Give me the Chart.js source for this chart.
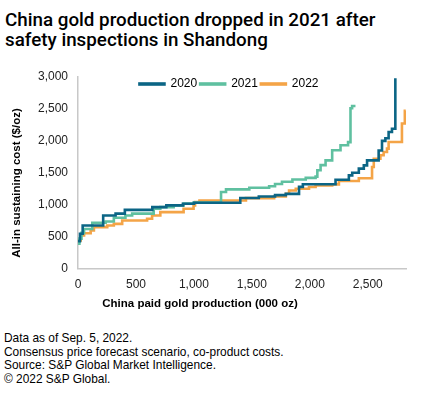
<!DOCTYPE html>
<html>
<head>
<meta charset="utf-8">
<script src="https://cdn.jsdelivr.net/npm/chart.js@4.4.0/dist/chart.umd.min.js"></script>
<style>
  body { margin: 0; width: 425px; height: 394px; background: #fff; position: relative; overflow: hidden;
         font-family: "Liberation Sans", Arial, sans-serif; color: #000; }
  #title { position: absolute; left: 5px; top: 11px; font-family: Roboto, sans-serif; font-size: 18.8px;
           font-weight: 500; line-height: 19.5px; }
  #wrap { position: absolute; left: 0; top: 55px; width: 425px; height: 262px; }
  #notes { position: absolute; left: 4px; top: 332px; font-size: 11.9px; line-height: 13.7px; }
</style>
</head>
<body>
<div id="title">China gold production dropped in 2021 after<br>safety inspections in Shandong</div>
<div id="wrap"><canvas id="chart"></canvas></div>
<div id="notes">Data as of Sep. 5, 2022.<br>Consensus price forecast scenario, co-product costs.<br>Source: S&amp;P Global Market Intelligence.<br>© 2022 S&amp;P Global.</div>
<script>
// cumulative paid production (000 oz) where each cost step starts, and its AISC ($/oz)
const prod2020 = [0, 17, 40, 217, 324, 404, 641, 762, 905, 1000, 1400, 1560, 1700, 1793, 1907, 1940, 2222, 2337, 2366, 2423, 2466, 2494, 2594, 2623, 2652, 2680, 2709, 2738];
const cost2020 = [430, 545, 675, 832, 860, 920, 962, 990, 1015, 1030, 1105, 1130, 1150, 1170, 1280, 1320, 1392, 1460, 1500, 1565, 1617, 1695, 1850, 2000, 2040, 2140, 2190, 2980];

const prod2021 = [0, 12, 30, 52, 123, 238, 309, 409, 467, 653, 710, 825, 911, 1000, 1234, 1277, 1478, 1649, 1700, 1760, 1850, 1965, 2050, 2065, 2093, 2136, 2193, 2265, 2330, 2351, 2365, 2394];
const cost2021 = [390, 470, 560, 620, 717, 738, 796, 832, 860, 937, 962, 990, 1020, 1035, 1200, 1240, 1265, 1290, 1325, 1360, 1395, 1420, 1440, 1540, 1620, 1695, 1852, 1931, 1980, 2510, 2545, 2545];

const prod2022 = [0, 23, 52, 109, 137, 252, 309, 381, 596, 639, 710, 911, 997, 1010, 1048, 1449, 1692, 1793, 1821, 1879, 1993, 2050, 2193, 2251, 2423, 2537, 2552, 2609, 2637, 2666, 2680, 2795, 2820, 2828];
const cost2022 = [440, 518, 554, 597, 649, 675, 701, 754, 780, 832, 884, 937, 990, 1041, 1067, 1104, 1130, 1172, 1224, 1250, 1277, 1303, 1318, 1371, 1415, 1590, 1721, 1774, 1826, 1878, 1983, 2271, 2470, 2470];

const seriesNames = ['2020', '2021', '2022'];
const xTicks = [0, 500, 1000, 1500, 2000, 2500];
const yTicks = [0, 500, 1000, 1500, 2000, 2500, 3000];
const xTitle = 'China paid gold production (000 oz)';
const yTitle = 'All-in sustaining cost ($/oz)';

const toPoints = (xs, ys) => xs.map((x, i) => ({ x: x, y: ys[i] }));

const font = { family: '"Liberation Sans", Arial, sans-serif', size: 12 };

// axis titles are centred on the whole chart box, not on the plot area
const axisTitles = {
  id: 'axisTitles',
  afterDraw(chart) {
    const ctx = chart.ctx;
    ctx.save();
    ctx.fillStyle = '#000';
    ctx.font = 'bold 11.5px "Liberation Sans", Arial, sans-serif';
    ctx.textAlign = 'center';
    ctx.textBaseline = 'middle';
    ctx.fillText(xTitle, 200, chart.height - 13);
    ctx.translate(17, 128);
    ctx.rotate(-Math.PI / 2);
    ctx.fillText(yTitle, 0, 0);
    ctx.restore();
  }
};

// legend sits inside the plot, so it takes no room in the layout
const legendInside = {
  id: 'legendInside',
  beforeInit(chart) {
    const legend = chart.legend;
    const fit = legend.fit;
    legend.fit = function () { fit.call(this); this.realHeight = this.height; this.height = 0; };
  },
  afterLayout(chart) {
    const legend = chart.legend;
    legend.top -= 2;
    legend.height = legend.realHeight;
    legend.bottom = legend.top + legend.height;
    legend.left += 12;
    legend.right += 12;
  }
};

const ctx = document.getElementById('chart').getContext('2d');
const chart = new Chart(ctx, {
  type: 'line',
  data: {
    datasets: [
      { label: seriesNames[0], data: toPoints(prod2020, cost2020), borderColor: '#0b6585', backgroundColor: '#0b6585' },
      { label: seriesNames[1], data: toPoints(prod2021, cost2021), borderColor: '#5fc0a0', backgroundColor: '#5fc0a0' },
      { label: seriesNames[2], data: toPoints(prod2022, cost2022), borderColor: '#f4a447', backgroundColor: '#f4a447' }
    ]
  },
  options: {
    responsive: true,
    maintainAspectRatio: false,
    animation: false,
    layout: { padding: { left: 28, right: 19, top: 22, bottom: 16 } },
    elements: {
      point: { radius: 0 },
      line: { borderWidth: 2.6, stepped: true, tension: 0, fill: false }
    },
    plugins: {
      legend: {
        position: 'top',
        align: 'center',
        labels: { boxWidth: 25, boxHeight: 1, padding: 3, color: '#000', font: { family: font.family, size: 12 } }
      },
      tooltip: { enabled: false }
    },
    scales: {
      x: {
        type: 'linear', min: 0, max: 2830,
        grid: { display: false, drawTicks: false },
        border: { color: '#c8c8c8', width: 1.5 },
        afterBuildTicks: (axis) => { axis.ticks = xTicks.map(v => ({ value: v })); },
        ticks: { padding: 9, maxRotation: 0, color: '#222', font: font }
      },
      y: {
        min: 0, max: 3000,
        grid: { display: false, drawTicks: false },
        border: { color: '#c8c8c8', width: 1.5 },
        afterBuildTicks: (axis) => { axis.ticks = yTicks.map(v => ({ value: v })); },
        ticks: { padding: 10, color: '#222', font: font }
      }
    }
  },
  plugins: [axisTitles, legendInside]
});
</script>
</body>
</html>
